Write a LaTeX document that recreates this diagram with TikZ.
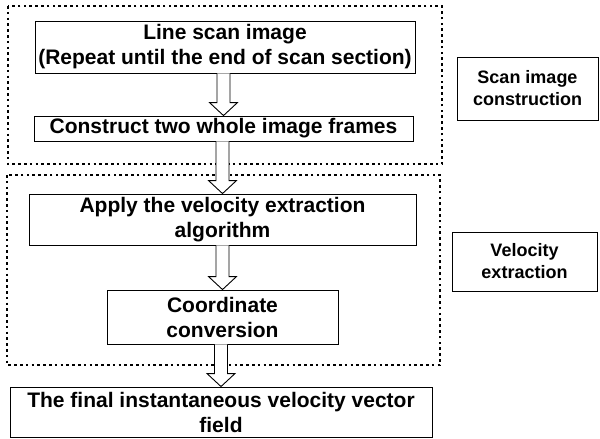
\documentclass[tikz,border=0pt]{standalone}
\usepackage{fontspec}
\setmainfont{Liberation Sans}
\usetikzlibrary{calc}
\tikzset{
  stepbox/.style={draw=black, line width=0.9pt, fill=white, inner sep=0pt, align=center,
    font=\bfseries\fontsize{21}{25}\selectfont},
  labelbox/.style={draw=black, line width=0.9pt, inner sep=0pt, align=center,
    font=\bfseries\fontsize{18}{22}\selectfont},
  dotbox/.style={draw=black, line width=2.7pt, dash pattern=on 2.6pt off 3.2pt},
  blockarrow/.style={draw=black, line width=0.9pt, fill=white, line join=miter}
}
\newcommand{\blockarr}[2]{%
  \draw[blockarrow] let \p1=(#1.south), \p2=(#2.north) in
    (\x2-6.5pt,\y1) -- (\x2-6.5pt,\y2+13pt) -- (\x2-14pt,\y2+13pt) -- (\x2,\y2)
    -- (\x2+14pt,\y2+13pt) -- (\x2+6.5pt,\y2+13pt) -- (\x2+6.5pt,\y1);}
\begin{document}
\begin{tikzpicture}[x=1pt,y=-1pt]
\useasboundingbox[fill=white] (0,0) rectangle (600,439);
% dotted group frames
\draw[dotbox] (8,6) rectangle (442,164);
\draw[dotbox] (7,175) rectangle (440,365);
% steps
\node[stepbox, minimum width=380pt, minimum height=52pt] (ls) at (225,47)
  {Line scan image\\(Repeat until the end of scan section)};
\node[stepbox, minimum width=379pt, minimum height=25pt] (ct) at (223.5,128.5)
  {Construct two whole image frames};
\node[stepbox, minimum width=387pt, minimum height=51pt] (ap) at (222.5,219.5)
  {Apply the velocity extraction\\algorithm};
\node[stepbox, minimum width=231pt, minimum height=54pt] (co) at (222.5,317)
  {Coordinate\\conversion};
\node[stepbox, minimum width=422pt, minimum height=50pt] (fi) at (221,412)
  {The final instantaneous velocity vector\\field};
% side labels
\node[labelbox, minimum width=141pt, minimum height=63pt] (sc) at (527.5,88.5)
  {Scan image\\construction};
\node[labelbox, minimum width=145pt, minimum height=59pt] (ve) at (524.5,261.5)
  {Velocity\\extraction};
% block arrows
\blockarr{ls}{ct}
\blockarr{ct}{ap}
\blockarr{ap}{co}
\blockarr{co}{fi}
\end{tikzpicture}
\end{document}
